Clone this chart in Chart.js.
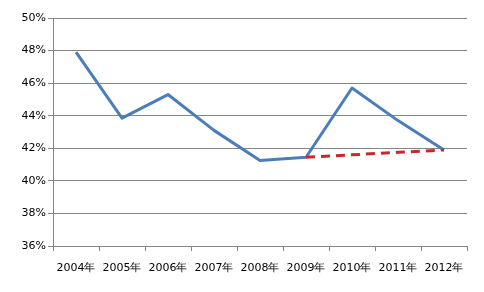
<!DOCTYPE html>
<html>
<head>
<meta charset="utf-8">
<script src="https://cdn.jsdelivr.net/npm/chart.js@4/dist/chart.umd.min.js"></script>
<style>
  html, body { margin: 0; padding: 0; background: #fff; }
  #chart { display: block; }
</style>
</head>
<body>
<canvas id="chart" width="484" height="292"></canvas>
<script>
// Data
const years = ["2004年", "2005年", "2006年", "2007年", "2008年", "2009年", "2010年", "2011年", "2012年"];
const actual = [47.9, 43.85, 45.3, 43.1, 41.25, 41.45, 45.7, 43.7, 41.9];
const trend = [null, null, null, null, null, 41.45, 41.6, 41.75, 41.9];
const yTicks = [36, 38, 40, 42, 44, 46, 48, 50];

const font = { family: "'DejaVu Sans', sans-serif", size: 11 };
const gridGrey = "#868686";

const ctx = document.getElementById("chart").getContext("2d");
new Chart(ctx, {
    type: "line",
    data: {
        labels: years,
        datasets: [
            {
                label: "trend",
                data: trend,
                borderColor: "#c8282c",
                borderWidth: 3,
                borderDash: [9, 6],
                pointRadius: 0,
                tension: 0,
                fill: false
            },
            {
                label: "actual",
                data: actual,
                borderColor: "#4a7ebb",
                borderWidth: 3,
                borderJoinStyle: "round",
                pointRadius: 0,
                tension: 0,
                fill: false
            }
        ]
    },
    options: {
        responsive: false,
        animation: false,
        layout: { padding: { top: 18, right: 17, bottom: 0, left: 0 } },
        plugins: { legend: { display: false }, tooltip: { enabled: false } },
        scales: {
            x: {
                offset: true,
                grid: {
                    offset: true,
                    drawOnChartArea: false,
                    drawTicks: true,
                    tickLength: 5,
                    color: gridGrey
                },
                border: { color: gridGrey, width: 1 },
                ticks: { color: "#000", font: font, padding: 11, maxRotation: 0, autoSkip: false },
                afterFit: s => { s.height = 46; }
            },
            y: {
                min: 36,
                max: 50,
                afterBuildTicks: s => { s.ticks = yTicks.map(v => ({ value: v })); },
                grid: { color: gridGrey, tickLength: 5 },
                border: { color: gridGrey, width: 1 },
                ticks: { color: "#000", font: font, padding: 2, callback: v => v + "%" },
                afterFit: s => { s.width = 53; }
            }
        }
    }
});
</script>
</body>
</html>
